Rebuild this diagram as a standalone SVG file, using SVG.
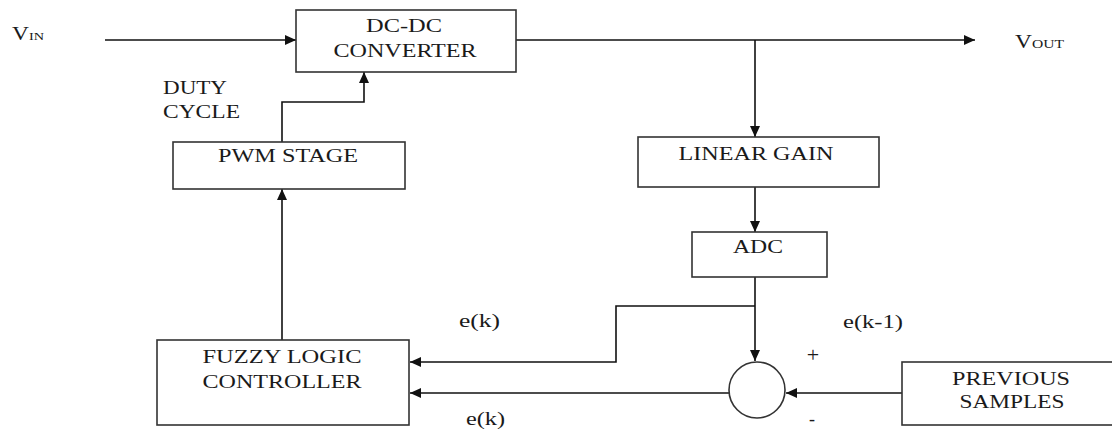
<svg xmlns="http://www.w3.org/2000/svg" width="1112" height="430" viewBox="0 0 1112 430">
<defs>
<style>
.box{fill:#fff;stroke:#333;stroke-width:1.6}
.ln{fill:none;stroke:#111;stroke-width:1.6}
.arr{marker-end:url(#ah)}
text{font-family:'Liberation Serif','DejaVu Serif',serif;font-size:18px;fill:#1a1a1a}
.c{text-anchor:middle}
.sg{font-size:22px}
.mn{font-size:18px}
</style>
<marker id="ah" markerUnits="userSpaceOnUse" markerWidth="11" markerHeight="10" refX="11" refY="5" orient="auto">
<path d="M0,0 L11,5 L0,10 z" fill="#111"/>
</marker>
</defs>
<rect width="1112" height="430" fill="#fff"/>
<g id="connectors">
<path class="ln arr" d="M105,40 H296"/>
<path class="ln arr" d="M516,40 H975"/>
<path class="ln arr" d="M755,40 V137"/>
<path class="ln arr" d="M755,187 V232"/>
<path class="ln arr" d="M755,277 V361"/>
<path class="ln arr" d="M755,306 H616 V362 H410"/>
<path class="ln arr" d="M729,393 H410"/>
<path class="ln arr" d="M902,393 H786"/>
<path class="ln arr" d="M282,340 V189"/>
<path class="ln arr" d="M282,142 V102 H364 V72"/>
</g>
<g id="vin"><text x="12" y="40" transform="translate(12,40) scale(1.3,1) translate(-12,-40)">V<tspan font-size="11">IN</tspan></text></g>
<g id="vout"><text x="1015" y="48" transform="translate(1015,48) scale(1.3,1) translate(-1015,-48)">V<tspan font-size="12">OUT</tspan></text></g>
<g id="dcdc"><rect class="box" x="296" y="10" width="220" height="62"/>
<text class="c" x="404" y="32" textLength="76" lengthAdjust="spacingAndGlyphs">DC-DC</text>
<text class="c" x="405" y="57" textLength="143" lengthAdjust="spacingAndGlyphs">CONVERTER</text></g>
<g id="duty"><text x="163" y="94" textLength="64" lengthAdjust="spacingAndGlyphs">DUTY</text>
<text x="163" y="118" textLength="77" lengthAdjust="spacingAndGlyphs">CYCLE</text></g>
<g id="pwm"><rect class="box" x="173" y="142" width="232" height="47"/>
<text class="c" x="288" y="162" textLength="140" lengthAdjust="spacingAndGlyphs">PWM STAGE</text></g>
<g id="lingain"><rect class="box" x="638" y="137" width="241" height="50"/>
<text class="c" x="756" y="160" textLength="155" lengthAdjust="spacingAndGlyphs">LINEAR GAIN</text></g>
<g id="adc"><rect class="box" x="692" y="232" width="135" height="45"/>
<text class="c" x="758" y="253" textLength="50" lengthAdjust="spacingAndGlyphs">ADC</text></g>
<g id="flc"><rect class="box" x="157" y="340" width="252" height="85"/>
<text class="c" x="282" y="363" textLength="159" lengthAdjust="spacingAndGlyphs">FUZZY LOGIC</text>
<text class="c" x="282" y="388" textLength="159" lengthAdjust="spacingAndGlyphs">CONTROLLER</text></g>
<g id="sum"><circle class="box" cx="757" cy="390" r="28"/>
<text class="c sg" x="813" y="362">+</text>
<text class="c mn" x="812" y="425">-</text></g>
<g id="prev"><rect class="box" x="902" y="362" width="215" height="63"/>
<text class="c" x="1011" y="385" textLength="118" lengthAdjust="spacingAndGlyphs">PREVIOUS</text>
<text class="c" x="1012" y="408" textLength="105" lengthAdjust="spacingAndGlyphs">SAMPLES</text></g>
<g id="labels">
<text x="459" y="327" textLength="41" lengthAdjust="spacingAndGlyphs">e(k)</text>
<text x="466" y="425" textLength="39" lengthAdjust="spacingAndGlyphs">e(k)</text>
<text x="843" y="328" textLength="60" lengthAdjust="spacingAndGlyphs">e(k-1)</text>
</g>
</svg>
